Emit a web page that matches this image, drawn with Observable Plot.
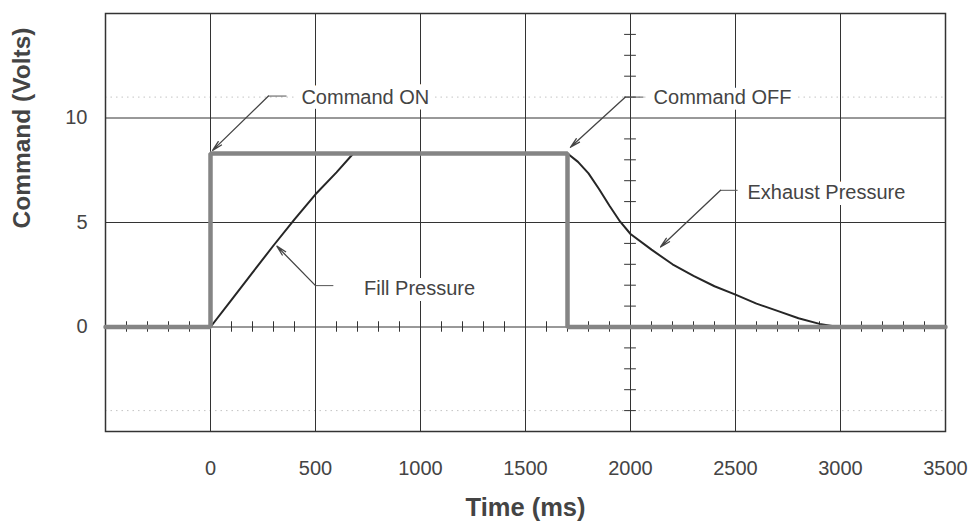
<!DOCTYPE html>
<html>
<head>
<meta charset="utf-8">
<script src="https://cdn.jsdelivr.net/npm/d3@7"></script>
<script src="https://cdn.jsdelivr.net/npm/@observablehq/plot@0.6"></script>
<style>
  html, body { margin: 0; padding: 0; background: #fff; }
  svg { display: block; }
</style>
</head>
<body>
<div id="chart"></div>
<script>
// ---- Data ----
// Command signal (Volts) vs time (ms)
const cmdT = [-500, 0, 0, 1700, 1700, 3500];
const cmdV = [0, 0, 8.3, 8.3, 0, 0];

// Pressure trace (fill ramp, plateau, exhaust decay)
const pressT = [0, 100, 200, 300, 400, 500, 600, 680, 1700, 1750, 1800, 1850, 1900, 1950, 2000, 2100, 2200, 2300, 2400, 2500, 2600, 2700, 2800, 2900, 2990, 3500];
const pressV = [0, 1.3, 2.6, 3.9, 5.15, 6.35, 7.4, 8.3, 8.3, 7.9, 7.35, 6.6, 5.8, 5.05, 4.45, 3.7, 3.0, 2.45, 1.95, 1.55, 1.12, 0.77, 0.42, 0.15, 0, 0];

// Axes
const xTickValues = [0, 500, 1000, 1500, 2000, 2500, 3000, 3500];
const yTickValues = [0, 5, 10];
const xGridValues = [0, 500, 1000, 1500, 2000, 2500, 3000];
const yGridValues = [0, 5, 10];
const xMinorValues = d3.range(-400, 3500, 100).filter(d => d % 500 !== 0);
const yMinorValues = d3.range(-4, 15, 1).filter(d => d % 5 !== 0);
const faintLevels = [-4, 11];
const xDomain = [-500, 3500];
const yDomain = [-5, 15];
const xTitle = "Time (ms)";
const yTitle = "Command (Volts)";

// Annotations
const labelText = ["Command ON", "Command OFF", "Exhaust Pressure", "Fill Pressure"];
const labelT = [433, 2110, 2557, 731];
const labelV = [11.0, 11.0, 6.45, 1.85];
const elbowT = [276, 1976, 2429, 500];
const elbowV = [11.05, 11.0, 6.54, 1.98];
const leaderEndT = [362, 2062, 2510, 585];
const tipT = [10, 1714, 2143, 316];
const tipV = [8.45, 8.6, 3.83, 3.87];

// ---- Build tables ----
const cmd = cmdT.map((t, i) => ({t, v: cmdV[i]}));
const press = pressT.map((t, i) => ({t, v: pressV[i]}));
const notes = labelText.map((text, i) => ({
  text, t: labelT[i], v: labelV[i],
  et: elbowT[i], ev: elbowV[i], lt: leaderEndT[i], tt: tipT[i], tv: tipV[i]
}));

const ink = "#333";
const textInk = "#444";

const chart = Plot.plot({
  width: 972,
  height: 521,
  marginLeft: 105,
  marginRight: 27,
  marginTop: 13,
  marginBottom: 90,
  x: {domain: xDomain, label: null},
  y: {domain: yDomain, label: null},
  style: {fontFamily: "'Liberation Sans', Arial, Helvetica, sans-serif", fontSize: "20px", background: "#fff", color: textInk},
  marks: [
    // faint dotted graticule remnants
    Plot.ruleY(faintLevels, {stroke: "#c4c4c4", strokeDasharray: "1.5,4", strokeWidth: 1}),
    // grid
    Plot.ruleX(xGridValues, {stroke: ink, strokeWidth: 1}),
    Plot.ruleY(yGridValues, {stroke: ink, strokeWidth: 1}),
    // minor ticks on the centre axes
    Plot.ruleX(xMinorValues, {y1: -0.25, y2: 0.25, stroke: ink, strokeWidth: 1}),
    Plot.ruleY(yMinorValues, {x1: 1972, x2: 2028, stroke: ink, strokeWidth: 1}),
    Plot.frame({stroke: ink, strokeWidth: 1.5}),
    // pressure trace
    Plot.line(press, {x: "t", y: "v", stroke: "#262626", strokeWidth: 2, curve: "linear"}),
    // command trace
    Plot.line(cmd, {x: "t", y: "v", stroke: "#858585", strokeWidth: 4.5, strokeLinejoin: "miter"}),
    // annotation leaders
    Plot.link(notes, {x1: "et", y1: "ev", x2: "lt", y2: "ev", stroke: "#555", strokeWidth: 1}),
    Plot.arrow(notes, {x1: "et", y1: "ev", x2: "tt", y2: "tv", stroke: "#444", strokeWidth: 1.3, headLength: 12, headAngle: 26}),
    Plot.text(notes, {x: "t", y: "v", text: "text", textAnchor: "start", lineAnchor: "middle", fontSize: 20, fill: textInk, stroke: "#fff", strokeWidth: 12}),
    // axes
    Plot.axisX(xTickValues, {tickSize: 0, tickPadding: 29, tickFormat: d => String(d), fontSize: 20, fill: textInk, label: null}),
    Plot.axisY(yTickValues, {tickSize: 0, tickPadding: 18, tickFormat: d => String(d), fontSize: 20, fill: textInk, label: null}),
    // axis titles
    Plot.text([xTitle], {frameAnchor: "bottom", text: d => d, dy: 76, lineAnchor: "middle", fontSize: 25.5, fontWeight: "bold", fill: textInk}),
    Plot.text([yTitle], {frameAnchor: "left", text: d => d, dx: -83, dy: 6, rotate: -90, lineAnchor: "middle", fontSize: 24.5, fontWeight: "bold", fill: textInk})
  ]
});

document.getElementById("chart").appendChild(chart);
</script>
</body>
</html>
